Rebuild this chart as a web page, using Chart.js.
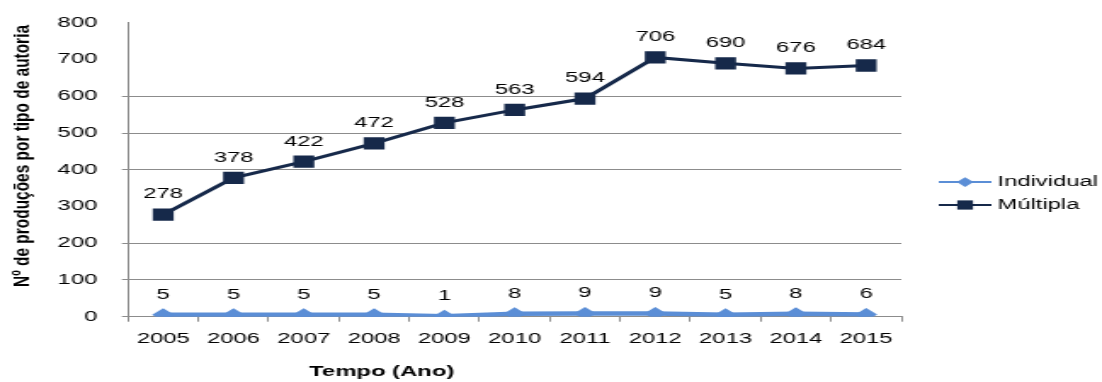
<!DOCTYPE html>
<html><head><meta charset="utf-8">
<script src="https://cdn.jsdelivr.net/npm/chart.js@4.4.1/dist/chart.umd.min.js"></script>
<style>
html,body{margin:0;padding:0;background:#fff;overflow:hidden}
#wrap{width:1102px;height:382px;overflow:hidden;position:relative}
#c{position:absolute;left:0;top:0;transform-origin:0 0;transform:scaleX(1.7006)}
</style></head>
<body><div id="wrap"><canvas id="c" width="648" height="382" style="width:648px;height:382px"></canvas></div>
<script>
const categories = ['2005','2006','2007','2008','2009','2010','2011','2012','2013','2014','2015'];
const individual = [5,5,5,5,1,8,9,9,5,8,6];
const multipla = [278,378,422,472,528,563,594,706,690,676,684];
const seriesNames = ['Individual','Múltipla'];
const yTickValues = [0,100,200,300,400,500,600,700,800];
const hiddenGridValues = [300,700,800];
const yTitle = 'Nº de produções por tipo de autoria';
const xTitle = 'Tempo (Ano)';

const FONT = '"Liberation Sans", Arial, sans-serif';
const GRID = '#8c8c8c';

const valueLabels = {
  id: 'valueLabels',
  afterDatasetsDraw(chart) {
    const ctx = chart.ctx;
    ctx.save();
    ctx.font = '14px ' + FONT;
    ctx.fillStyle = '#000';
    ctx.textAlign = 'center';
    ctx.textBaseline = 'middle';
    chart.data.datasets.forEach((ds, i) => {
      chart.getDatasetMeta(i).data.forEach((pt, j) => {
        ctx.fillText(String(ds.data[j]), pt.x, pt.y - 20);
      });
    });
    ctx.restore();
  }
};

const customLegend = {
  id: 'customLegend',
  afterDraw(chart) {
    const ctx = chart.ctx;
    ctx.save();
    chart.data.datasets.forEach((ds, i) => {
      const y = 182 + i * 23;
      ctx.strokeStyle = ds.borderColor;
      ctx.lineWidth = 2;
      ctx.beginPath();
      ctx.moveTo(552, y); ctx.lineTo(583, y);
      ctx.stroke();
      ctx.fillStyle = ds.pointBackgroundColor;
      Chart.helpers.drawPoint(ctx, {pointStyle: ds.pointStyle, radius: ds.pointRadius * 0.75, rotation: 0, borderWidth: 0}, 567.5, y);
      ctx.fillStyle = '#000';
      ctx.font = '14px ' + FONT;
      ctx.textAlign = 'left';
      ctx.textBaseline = 'middle';
      ctx.fillText(ds.label, 586.5, y);
    });
    ctx.restore();
  }
};

const axisTitles = {
  id: 'axisTitles',
  afterDraw(chart) {
    const ctx = chart.ctx;
    ctx.save();
    ctx.fillStyle = '#000';
    ctx.textAlign = 'center';
    ctx.textBaseline = 'middle';
    ctx.font = 'bold 12px ' + FONT;
    const w = ctx.measureText(yTitle).width;
    ctx.translate(14.1, 156);
    ctx.rotate(-Math.PI / 2);
    ctx.scale(262 / w, 1);
    ctx.fillText(yTitle, 0, 0);
    ctx.restore();
    ctx.save();
    ctx.fillStyle = '#000';
    ctx.textAlign = 'center';
    ctx.textBaseline = 'middle';
    ctx.font = 'bold 14px ' + FONT;
    ctx.fillText(xTitle, 224.5, 372);
    ctx.restore();
  }
};

new Chart(document.getElementById('c'), {
  type: 'line',
  data: {
    labels: categories,
    datasets: [
      {
        label: seriesNames[0], data: individual,
        borderColor: '#5b8ed6', backgroundColor: '#5b8ed6',
        pointBackgroundColor: '#5b8ed6', pointBorderColor: '#5b8ed6',
        borderWidth: 4.5, pointStyle: 'rectRot', pointRadius: 6.5, pointBorderWidth: 0,
        tension: 0
      },
      {
        label: seriesNames[1], data: multipla,
        borderColor: '#16294a', backgroundColor: '#16294a',
        pointBackgroundColor: '#16294a', pointBorderColor: '#16294a',
        borderWidth: 3, pointStyle: 'rect', pointRadius: 8.7, pointBorderWidth: 0,
        tension: 0
      }
    ]
  },
  options: {
    responsive: false,
    animation: false,
    devicePixelRatio: 1,
    layout: { padding: { top: 18.3, right: 118, left: 0, bottom: 0 } },
    plugins: { legend: { display: false }, tooltip: { enabled: false }, title: { display: false } },
    scales: {
      x: {
        offset: true,
        grid: { offset: true, drawOnChartArea: false, drawTicks: true, tickLength: 5, color: GRID, lineWidth: 1 },
        border: { display: true, color: GRID, width: 1 },
        ticks: { color: '#000', font: { family: FONT, size: 14 }, padding: 9, maxRotation: 0, autoSkip: false },
        afterFit(scale) { scale.height = 65.3; }
      },
      y: {
        min: 0, max: 800,
        afterBuildTicks(scale) { scale.ticks = yTickValues.map(v => ({ value: v })); },
        grid: {
          color: (c) => hiddenGridValues.includes(c.tick && c.tick.value) ? 'rgba(0,0,0,0)' : GRID,
          lineWidth: 1, drawTicks: true, tickLength: 3.6
        },
        border: { display: true, color: GRID, width: 1 },
        ticks: { color: '#000', font: { family: FONT, size: 14 }, padding: 14.5 },
        afterFit(scale) { scale.width = 75.3; }
      }
    }
  },
  plugins: [valueLabels, customLegend, axisTitles]
});
</script>
</body></html>
